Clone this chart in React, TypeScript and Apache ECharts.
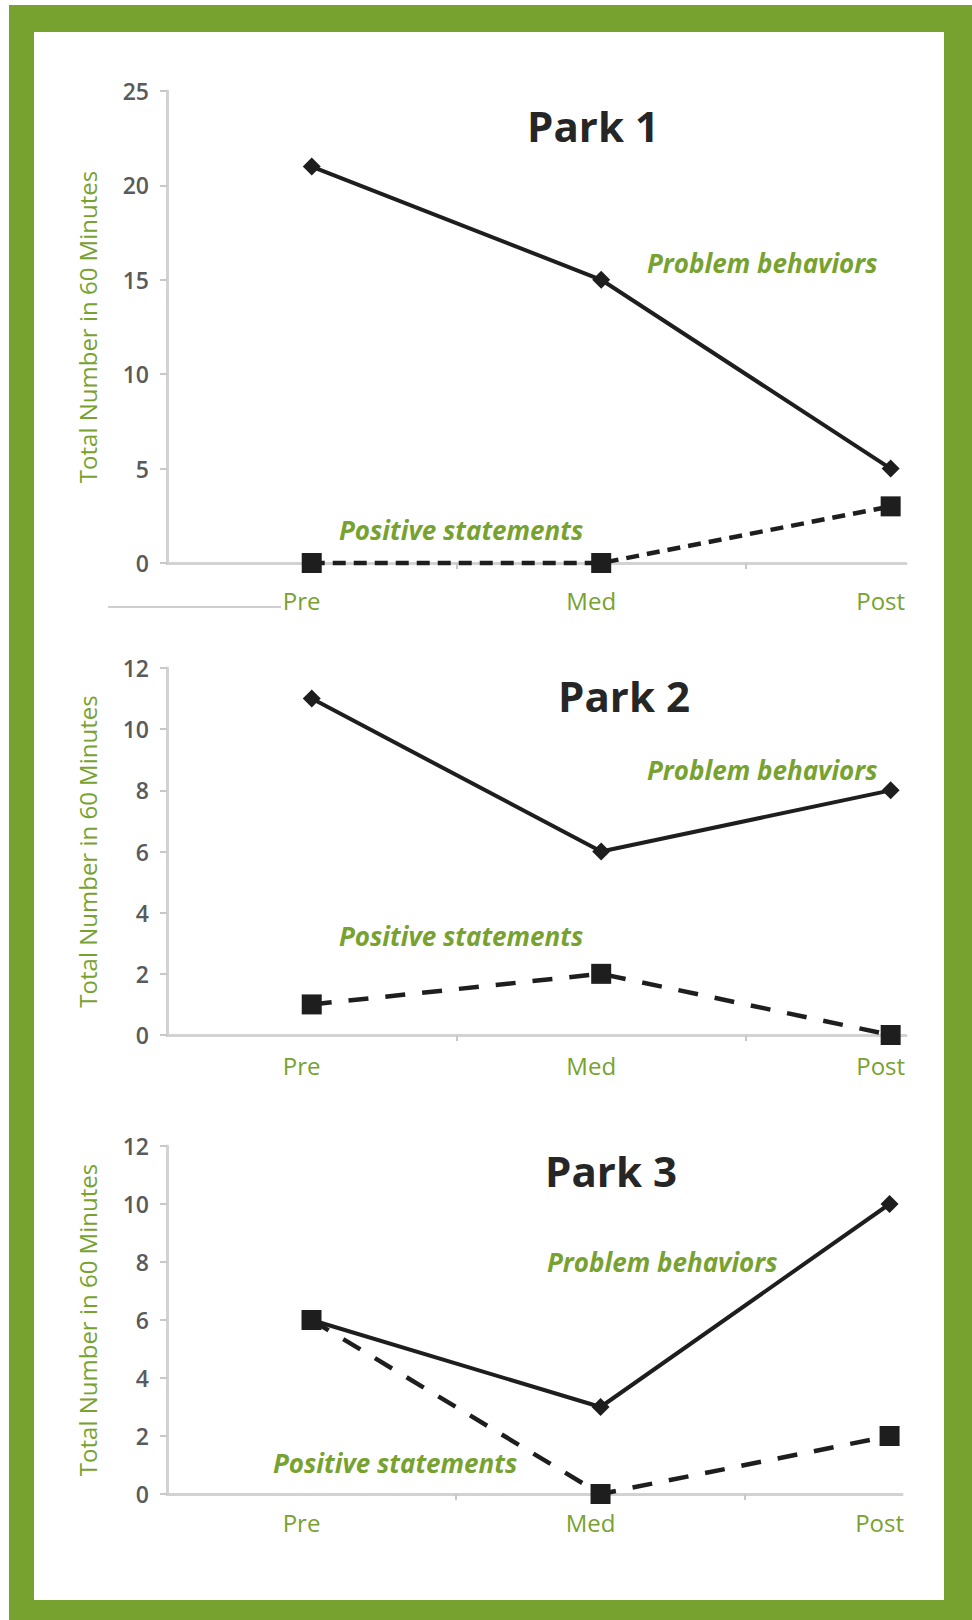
import React, { useEffect, useRef } from "react";
import * as echarts from "echarts";

const categories = ["Pre", "Med", "Post"];
const parkTitles = ["Park 1", "Park 2", "Park 3"];
const problemBehaviors = [
  [21, 15, 5],
  [11, 6, 8],
  [6, 3, 10],
];
const positiveStatements = [
  [0, 0, 3],
  [1, 2, 0],
  [6, 0, 2],
];
const yMaxes = [25, 12, 12];
const yIntervals = [5, 2, 2];
const yAxisTitle = "Total Number in 60 Minutes";
const problemLabel = "Problem behaviors";
const positiveLabel = "Positive statements";

const GREEN = "#78a22f";
const INK = "#1e1e1e";

export default function App() {
  const ref = useRef<HTMLDivElement>(null);

  useEffect(() => {
    if (!ref.current) return;
    const chart = echarts.init(ref.current, null, { renderer: "svg" });

    const grids = [
      { left: 167, top: 91, width: 739, height: 472 },
      { left: 167, top: 668, width: 739, height: 367 },
      { left: 167, top: 1146, width: 735, height: 348 },
    ];
    const xMaxes = [2.053, 2.053, 2.043];
    const dashPatterns = [[13, 8], [20, 17], [20, 17]];
    const labelMargins = [25, 18, 16];

    const xAxes = grids.map((_, i) => ({
      type: "value",
      gridIndex: i,
      min: -0.5,
      max: xMaxes[i],
      splitLine: { show: false },
      axisLine: { show: true, onZero: false, lineStyle: { color: "#d2d2d2", width: 3 } },
      axisTick: {
        show: true,
        customValues: [0.5, 1.5],
        length: 6,
        lineStyle: { color: "#c8c8c8", width: 2 },
      },
      axisLabel: {
        show: true,
        customValues: [0, 1, 2],
        formatter: (v: number) => categories[Math.round(v)] ?? "",
        color: GREEN,
        fontFamily: "Open Sans",
        fontSize: 24,
        margin: labelMargins[i],
        padding: [0, 20, 0, 0],
      },
    }));

    const yAxes = grids.map((_, i) => ({
      type: "value",
      gridIndex: i,
      min: 0,
      max: yMaxes[i],
      interval: yIntervals[i],
      splitLine: { show: false },
      axisLine: { show: true, onZero: false, lineStyle: { color: "#d2d2d2", width: 3 } },
      axisTick: { show: true, length: 7, lineStyle: { color: "#c8c8c8", width: 2 } },
      axisLabel: {
        color: "#5a5a5a",
        fontFamily: "Open Sans",
        fontSize: 23,
        fontWeight: 600,
        margin: 18,
      },
      name: yAxisTitle,
      nameLocation: "middle",
      nameGap: 68,
      nameTextStyle: { color: GREEN, fontFamily: "Open Sans", fontSize: 24 },
    }));

    const series: any[] = [];
    grids.forEach((_, i) => {
      series.push({
        type: "line",
        xAxisIndex: i,
        yAxisIndex: i,
        data: categories.map((_, k) => [k, problemBehaviors[i][k]]),
        symbol: "diamond",
        symbolSize: 18,
        clip: false,
        itemStyle: { color: INK },
        lineStyle: { color: INK, width: 4, type: "solid" },
        z: 3,
      });
      series.push({
        type: "line",
        xAxisIndex: i,
        yAxisIndex: i,
        data: categories.map((_, k) => [k, positiveStatements[i][k]]),
        symbol: "rect",
        symbolSize: 20,
        clip: false,
        itemStyle: { color: INK },
        lineStyle: { color: INK, width: 4.5, type: dashPatterns[i] },
        z: 4,
      });
    });

    const titlePos = [
      [593, 125],
      [624, 695],
      [611, 1170],
    ];
    const problemPos = [
      [647, 263],
      [647, 770],
      [547, 1262],
    ];
    const positivePos = [
      [339, 530],
      [339, 936],
      [273, 1463],
    ];

    const graphics: any[] = [
      {
        type: "rect",
        z: -10,
        shape: { x: 9, y: 5, width: 963, height: 1615 },
        style: { fill: GREEN },
        silent: true,
      },
      {
        type: "rect",
        z: -9,
        shape: { x: 34, y: 32, width: 910, height: 1568 },
        style: { fill: "#ffffff" },
        silent: true,
      },
      {
        type: "line",
        z: 1,
        shape: { x1: 108, y1: 607, x2: 281, y2: 607 },
        style: { stroke: "#cfcfcf", lineWidth: 2 },
        silent: true,
      },
    ];
    parkTitles.forEach((t, i) => {
      graphics.push({
        type: "text",
        z: 10,
        x: titlePos[i][0],
        y: titlePos[i][1],
        style: {
          text: t,
          fill: "#262626",
          font: "bold 42px 'Open Sans'",
          align: "center",
          verticalAlign: "middle",
        },
      });
      graphics.push({
        type: "text",
        z: 10,
        x: problemPos[i][0],
        y: problemPos[i][1],
        style: {
          text: problemLabel,
          fill: GREEN,
          font: "italic bold 26px 'Open Sans'",
          align: "left",
          verticalAlign: "middle",
        },
      });
      graphics.push({
        type: "text",
        z: 10,
        x: positivePos[i][0],
        y: positivePos[i][1],
        style: {
          text: positiveLabel,
          fill: GREEN,
          font: "italic bold 26px 'Open Sans'",
          align: "left",
          verticalAlign: "middle",
        },
      });
    });

    chart.setOption({
      animation: false,
      backgroundColor: "#ffffff",
      grid: grids,
      xAxis: xAxes,
      yAxis: yAxes,
      series,
      graphic: graphics,
    });

    return () => chart.dispose();
  }, []);

  return (
    <div
      ref={ref}
      style={{ position: "absolute", left: 0, top: 0, width: 972, height: 1620 }}
    />
  );
}
